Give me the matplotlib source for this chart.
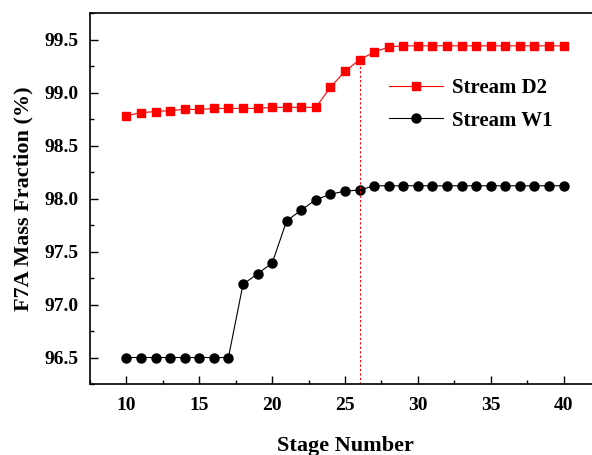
import numpy as np
import matplotlib
matplotlib.use('Agg')
from matplotlib import pyplot as plt
from matplotlib.ticker import MultipleLocator

stages = list(range(10, 41))
d2 = [98.78, 98.81, 98.82, 98.83, 98.84, 98.84, 98.85, 98.85, 98.85, 98.85,
      98.86, 98.86, 98.86, 98.86, 99.05, 99.20, 99.31, 99.38, 99.43] + [99.44] * 12
w1 = [96.5] * 8 + [97.19, 97.29, 97.39, 97.79, 97.89, 97.99, 98.04, 98.07, 98.08] + [98.12] * 14
opt_stage = 26

plt.rcParams['font.family'] = ['Liberation Serif', 'DejaVu Serif']
plt.rcParams['font.weight'] = 'bold'

fig = plt.figure(figsize=(5.92, 4.55), dpi=100)
ax = fig.add_axes([90 / 592, (455 - 384) / 455, 510 / 592, 371 / 455])

ax.plot(stages, d2, color='red', marker='s', markersize=6, linewidth=0.8, label='Stream D2')
ax.plot(stages, w1, color='black', marker='o', markersize=6.5, linewidth=0.8, label='Stream W1')
ax.plot([opt_stage, opt_stage], [96.25, d2[stages.index(opt_stage)]],
        color='red', linestyle=(0, (2, 2)), linewidth=0.8)

ax.set_xlim(7.5, 42.5)
ax.set_ylim(96.25, 99.75)
ax.xaxis.set_major_locator(MultipleLocator(5))
ax.xaxis.set_minor_locator(MultipleLocator(2.5))
ax.yaxis.set_minor_locator(MultipleLocator(0.25))
ax.set_yticks(np.arange(96.5, 99.6, 0.5))
ax.yaxis.set_major_formatter(matplotlib.ticker.FormatStrFormatter('%.1f'))
ax.tick_params(which='both', direction='in', labelsize=14, width=1)
ax.tick_params(which='major', length=6)
ax.tick_params(which='minor', length=3)
ax.tick_params(axis='x', pad=9)
ax.tick_params(axis='y', pad=8)
for s in ax.spines.values():
    s.set_linewidth(1.2)

ax.set_xlabel('Stage Number', fontsize=16, fontweight='bold', labelpad=16)
ax.set_ylabel('F7A Mass Fraction (%)', fontsize=16, fontweight='bold', labelpad=8)

ax.legend(loc='upper left', bbox_to_anchor=(0.55, 0.875), frameon=False,
          fontsize=15, handlelength=2.6, handletextpad=0.4, labelspacing=0.6)

fig.savefig('out.png', dpi=100)
